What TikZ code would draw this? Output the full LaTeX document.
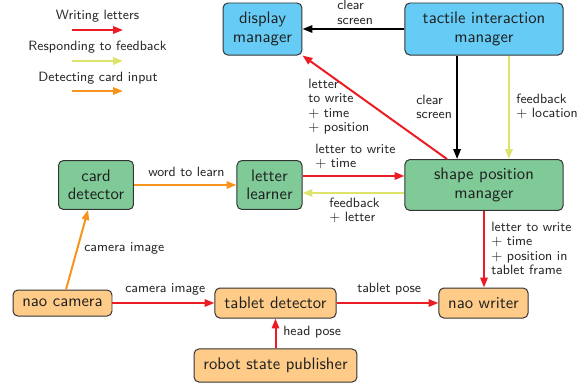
\documentclass[tikz,border=0pt]{standalone}
\usepackage{fontspec}
\usetikzlibrary{arrows.meta}
\definecolor{boxblue}{RGB}{102,204,246}
\definecolor{boxgreen}{RGB}{128,202,152}
\definecolor{boxorange}{RGB}{254,204,136}
\definecolor{wred}{RGB}{236,28,36}
\definecolor{fyellow}{RGB}{220,228,110}
\definecolor{corange}{RGB}{247,148,29}
\begin{document}
\begin{tikzpicture}[x=0.6536pt,y=-0.6536pt,font=\sffamily,
  box/.style={draw=black!80,line width=0.65pt,rounded corners=3.2pt,align=center,inner sep=0pt,font=\sffamily\fontsize{10.9}{12.1}\selectfont,text=black!88},
  bluebox/.style={box,fill=boxblue},
  greenbox/.style={box,fill=boxgreen},
  orangebox/.style={box,fill=boxorange},
  conn/.style={line width=1.3pt,-{Triangle[length=6.5pt,width=4.8pt]}},
  redconn/.style={conn,draw=wred},
  yelconn/.style={conn,draw=fyellow},
  orconn/.style={conn,draw=corange},
  blkconn/.style={conn,draw=black},
  lbl/.style={font=\sffamily\fontsize{8.8}{9.5}\selectfont,align=left,inner sep=0pt,text=black!85},
]
\useasboundingbox (0,0) rectangle (584,386);

% nodes
\node[bluebox,minimum width=51.6pt,minimum height=34pt] (disp) at (262.5,29) {display\\manager};
\node[bluebox,minimum width=103.3pt,minimum height=34pt] (tac) at (484,29) {tactile interaction\\manager};
\node[greenbox,minimum width=49pt,minimum height=32pt] (card) at (96,185) {card\\detector};
\node[greenbox,minimum width=42.5pt,minimum height=32pt] (learn) at (269.5,185) {letter\\learner};
\node[greenbox,minimum width=103.3pt,minimum height=33.3pt] (spm) at (484,185) {shape position\\manager};
\node[orangebox,minimum width=64.7pt,minimum height=17pt] (cam) at (62.5,303) {nao camera};
\node[orangebox,minimum width=79.1pt,minimum height=19.6pt] (td) at (275.5,303) {tablet detector};
\node[orangebox,minimum width=58.2pt,minimum height=19.6pt] (nw) at (483.5,303) {nao writer};
\node[orangebox,minimum width=106.5pt,minimum height=21.6pt] (rsp) at (275.5,365.5) {robot state publisher};

% legend
\node[lbl,anchor=base] (lg1) at (97.5,19.7) {Writing letters};
\node[lbl,anchor=base] (lg2) at (97.5,50.7) {Responding to feedback};
\node[lbl,anchor=base] (lg3) at (98,81.7) {Detecting card input};
\coordinate (a1) at (72,30); \coordinate (b1) at (123,30);
\coordinate (a2) at (72,61); \coordinate (b2) at (123,61);
\coordinate (a3) at (72,91); \coordinate (b3) at (123,91);
\draw[redconn] (a1) -- (b1);
\draw[yelconn] (a2) -- (b2);
\draw[orconn] (a3) -- (b3);

% connectors
\draw[blkconn] (tac.west) -- (disp.east);
\draw[blkconn] ([xshift=-17.6pt]tac.south) -- ([xshift=-17.6pt]spm.north);
\draw[yelconn] ([xshift=16.3pt]tac.south) -- ([xshift=16.3pt]spm.north);
\draw[redconn] ([xshift=-24.2pt]spm.north) -- (disp.south east);
\draw[redconn] ([yshift=5.9pt]learn.east) -- ([yshift=5.9pt]learn.east -| spm.west);
\draw[yelconn] ([yshift=-5.2pt]spm.west) -- ([yshift=-5.2pt]spm.west -| learn.east);
\draw[orconn] (card.east) -- (learn.west);
\draw[orconn] ([xshift=2.3pt]cam.north) -- ([xshift=-5.2pt]card.south);
\draw[redconn] (cam.east) -- (td.west);
\draw[redconn] (td.east) -- (nw.west);
\draw[redconn] (rsp.north) -- (td.south);
\draw[redconn] (spm.south) -- (spm.south |- nw.north);

% labels
\node[lbl,anchor=north west] (l1) at (337,0.3) {clear\\screen};
\node[lbl,anchor=north west] (l2) at (416,94.5) {clear\\screen};
\node[lbl,anchor=north west] (l3) at (516,93.5) {feedback\\$+$ location};
\node[lbl,anchor=north west] (l4) at (308,78.5) {letter\\to write\\$+$ time\\$+$ position};
\node[lbl,anchor=north west] (l5) at (315,143.5) {letter to write\\$+$ time};
\node[lbl,anchor=north west] (l6) at (329,197.5) {feedback\\$+$ letter};
\node[lbl,anchor=base west] (l7) at (148,176.7) {word to learn};
\node[lbl,anchor=base west] (l8) at (84,251.7) {camera image};
\node[lbl,anchor=base west] (l9) at (125,292.7) {camera image};
\node[lbl,anchor=base west] (l10) at (357,292.7) {tablet pose};
\node[lbl,anchor=base west] (l11) at (283,335.7) {head pose};
\node[lbl,anchor=north west] (l12) at (491,221.5) {letter to write\\$+$ time\\$+$ position in\\tablet frame};
\end{tikzpicture}
\end{document}
